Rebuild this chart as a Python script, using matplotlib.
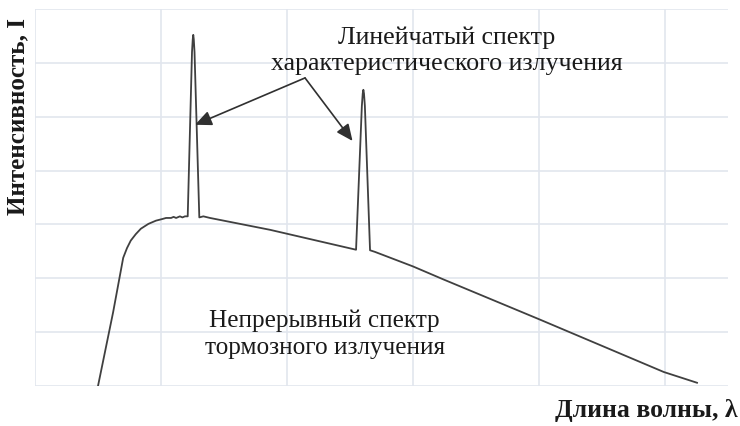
import matplotlib.pyplot as plt

# spectrum (x in grid units, y in grid units)
wavelength = [0.5, 0.62, 0.70, 0.73, 0.76, 0.80, 0.84, 0.90, 0.96, 1.01, 1.04,
              1.08, 1.10, 1.12, 1.15, 1.17, 1.19, 1.212, 1.246, 1.252, 1.256,
              1.260, 1.266, 1.304, 1.336, 1.389, 1.865, 2.548, 2.594, 2.601,
              2.606, 2.611, 2.618, 2.659, 2.698, 3.0, 3.24, 4.0, 4.99, 5.254]
intensity = [0.0, 1.37, 2.38, 2.56, 2.70, 2.82, 2.92, 3.01, 3.07, 3.10, 3.12,
             3.12, 3.14, 3.12, 3.15, 3.13, 3.15, 3.15, 6.2, 6.44, 6.52,
             6.44, 6.2, 3.13, 3.15, 3.12, 2.90, 2.53, 5.2, 5.43,
             5.50, 5.43, 5.2, 2.52, 2.49, 2.22, 1.98, 1.24, 0.26, 0.06]

peak_label = "Линейчатый спектр\nхарактеристического излучения"
cont_label = "Непрерывный спектр\nтормозного излучения"
arrow_from = (2.143, 5.72)
arrow_to = [(1.27, 4.85), (2.52, 4.55)]

plt.rcParams['font.family'] = ['Liberation Serif', 'DejaVu Serif']

fig = plt.figure(figsize=(7.4, 4.27), dpi=100)
ax = fig.add_axes([0.0473, 0.0937, 0.9365, 0.8829])

ax.plot(wavelength, intensity, color='#404040', lw=1.3)

ax.set_xlim(0, 5.5)
ax.set_ylim(0, 7)
ax.set_xticks(range(0, 6))
ax.set_yticks(range(0, 8))
ax.tick_params(length=0, labelbottom=False, labelleft=False)
ax.grid(True, color='#e2e6ee', lw=1.2)
for s in ax.spines.values():
    s.set_visible(False)

ax.text(3.266, 6.24, peak_label, ha='center', va='center', fontsize=18.7,
        linespacing=1.25, color='#1a1a1a')
ax.text(2.30, 0.98, cont_label, ha='center', va='center', fontsize=18.2,
        linespacing=1.25, color='#1a1a1a')

for tip in arrow_to:
    ax.annotate('', xy=tip, xytext=arrow_from,
                arrowprops=dict(arrowstyle='-|>,head_length=1.0,head_width=0.45',
                                color='#303030', lw=1.2, shrinkA=0, shrinkB=0))

fig.text(0.024, 0.726, "Интенсивность, I", rotation=90, ha='center', va='center',
         fontsize=18, fontweight='bold', color='#1a1a1a')
fig.text(0.997, 1 - 417 / 427, "Длина волны, λ", ha='right', va='baseline',
         fontsize=18.5, fontweight='bold', color='#1a1a1a')

fig.savefig('out.png', dpi=100)
